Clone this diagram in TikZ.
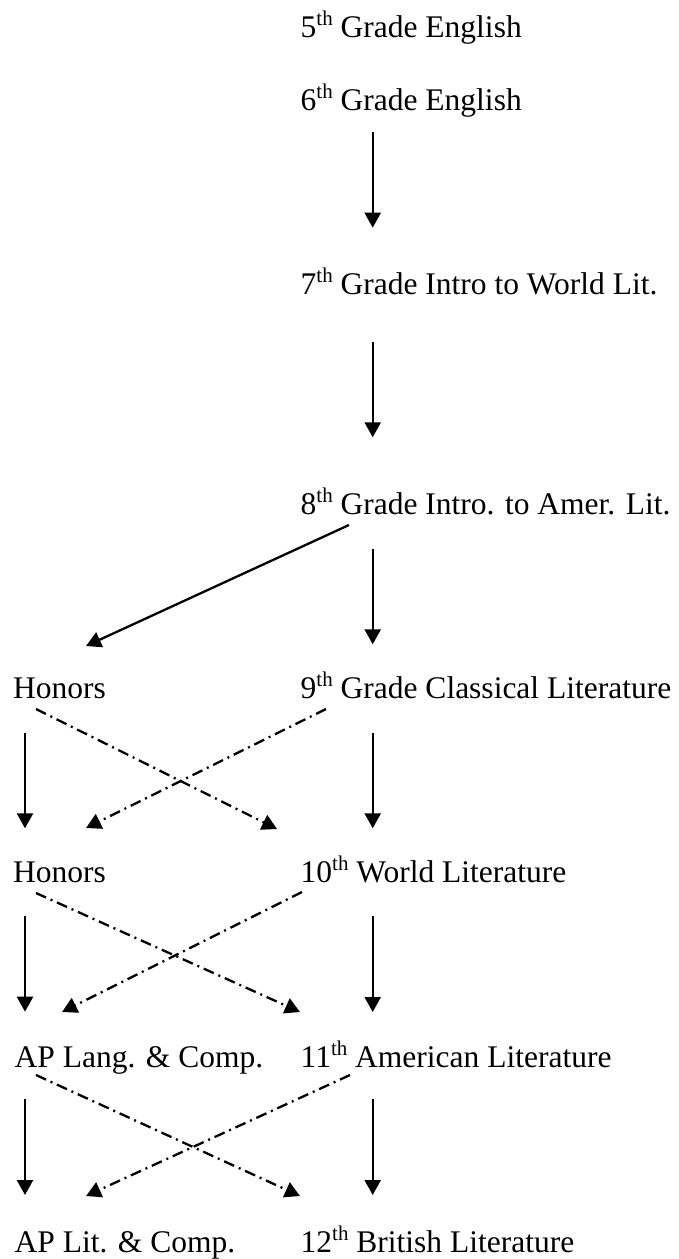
\documentclass[tikz,border=0pt]{standalone}
\usepackage{fontspec}
\setmainfont{Liberation Serif}
\usetikzlibrary{arrows.meta,calc}
\newcommand\supth[1]{\raisebox{12pt}{\fontsize{21}{21}\selectfont #1}}
\tikzset{
  lbl/.style={anchor=base west, inner sep=0pt, font=\fontsize{31.5}{38}\selectfont},
  arr/.style={line width=2.3pt, -{Triangle[length=15pt,width=16pt]}},
  darr/.style={line width=2.3pt, dash pattern=on 11pt off 5pt on 2pt off 5pt, -{Triangle[length=15pt,width=16pt]}}
}
\begin{document}
\begin{tikzpicture}[x=1pt,y=-1pt]
\useasboundingbox (0,0) rectangle (679,1259);
% right column
\node[lbl] (n5)  at (300.5,37)   {5\supth{th} Grade English};
\node[lbl] (n6)  at (300.5,110)  {6\supth{th} Grade English};
\node[lbl] (n7)  at (300.5,294)  {7\supth{th} Grade Intro to World Lit.};
\node[lbl] (n8)  at (300.5,514)  {8\supth{th} Grade Intro. to Amer. Lit.};
\node[lbl] (n9)  at (300.5,698)  {9\supth{th} Grade Classical Literature};
\node[lbl] (n10) at (300.5,882)  {10\supth{th} World Literature};
\node[lbl] (n11) at (300.5,1067) {11\supth{th} American Literature};
\node[lbl] (n12) at (300.5,1252) {12\supth{th} British Literature};
% left column
\node[lbl] (h9)   at (13,698)   {Honors};
\node[lbl] (h10)  at (13,882)   {Honors};
\node[lbl] (ap11) at (14.5,1067) {AP Lang. \& Comp.};
\node[lbl] (ap12) at (14.5,1252) {AP Lit. \& Comp.};
% solid vertical arrows, right
\draw[arr] ($(n6.base west)+(72.2,21.7)$) -- ($(n7.base west)+(72.2,-66.3)$);
\draw[arr] ($(n7.base west)+(72.2,47.7)$) -- ($(n8.base west)+(72.2,-76.7)$);
\draw[arr] ($(n8.base west)+(72.2,35.3)$) -- ($(n9.base west)+(72.2,-53.7)$);
\draw[arr] ($(n9.base west)+(72.2,34.7)$) -- ($(n10.base west)+(72.2,-53.7)$);
\draw[arr] ($(n10.base west)+(72.2,34)$) -- ($(n11.base west)+(72.2,-55)$);
\draw[arr] ($(n11.base west)+(72.2,32)$) -- ($(n12.base west)+(72.2,-57)$);
% solid vertical arrows, left
\draw[arr] ($(h9.base west)+(12,34.7)$) -- ($(h10.base west)+(12,-53.7)$);
\draw[arr] ($(h10.base west)+(12,33.7)$) -- ($(ap11.base west)+(10.5,-55.3)$);
\draw[arr] ($(ap11.base west)+(10.5,32.3)$) -- ($(ap12.base west)+(10.5,-57)$);
% diagonal solid
\draw[arr] ($(n8.base west)+(48.5,11)$) -- ($(h9.base west)+(73,-52)$);
% dash-dot crossings
\draw[darr] ($(h9.base west)+(23,11)$) -- ($(n10.base west)+(-23.5,-53)$);
\draw[darr] ($(n9.base west)+(25.5,11)$) -- ($(h10.base west)+(73,-54)$);
\draw[darr] ($(h10.base west)+(23,11)$) -- ($(n11.base west)+(-0.5,-55)$);
\draw[darr] ($(n10.base west)+(1.5,10)$) -- ($(ap11.base west)+(47.5,-55)$);
\draw[darr] ($(ap11.base west)+(21.5,8)$) -- ($(n12.base west)+(-0.5,-56)$);
\draw[darr] ($(n11.base west)+(49.5,8)$) -- ($(ap12.base west)+(71.5,-56)$);
\end{tikzpicture}
\end{document}
